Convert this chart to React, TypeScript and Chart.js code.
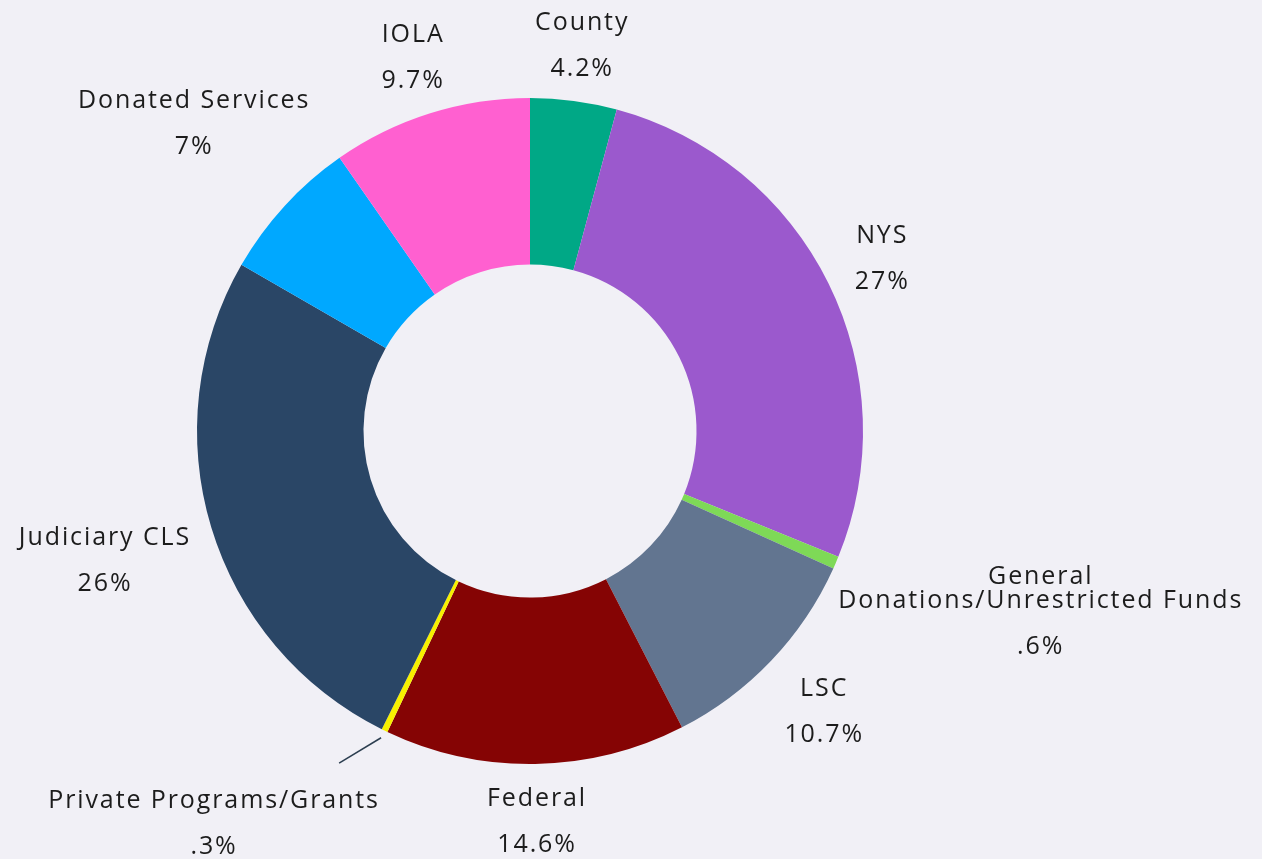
import React, { useEffect, useRef } from "react";
import { Chart, registerables } from "chart.js";

Chart.register(...registerables);

const categories = [
  "County",
  "NYS",
  "General\nDonations/Unrestricted Funds",
  "LSC",
  "Federal",
  "Private Programs/Grants",
  "Judiciary CLS",
  "Donated Services",
  "IOLA",
];
const values = [4.2, 27, 0.6, 10.7, 14.6, 0.3, 26, 7, 9.7];
const colors = [
  "#00a886",
  "#9b59cd",
  "#7ed957",
  "#627590",
  "#850404",
  "#f7f000",
  "#2a4666",
  "#00a8ff",
  "#ff60d0",
];

const FONT = '25px "Open Sans"';
const LETTER_SPACING = 1.9;
const TEXT_COLOR = "#1c1c1c";
const CAP_H = 17.5;
const LINE_GAP = 24;
const PCT_GAP = 46;

const fmtPct = (v: number) => String(v).replace(/^0(?=\.)/, "") + "%";

const outLabels = {
  id: "outLabels",
  afterDatasetsDraw(chart: any) {
    const ctx = chart.ctx as any;
    const meta = chart.getDatasetMeta(0);
    ctx.save();
    ctx.font = FONT;
    ctx.letterSpacing = LETTER_SPACING + "px";
    ctx.fillStyle = TEXT_COLOR;
    ctx.textAlign = "center";
    ctx.textBaseline = "alphabetic";
    const mw = (t: string) => ctx.measureText(t).width - LETTER_SPACING;
    const draw = (t: string, x: number, y: number) => ctx.fillText(t, x + LETTER_SPACING / 2, y);
    meta.data.forEach((arc: any, i: number) => {
      const p = arc.getProps(["x", "y", "startAngle", "endAngle", "outerRadius"], true);
      const cx = p.x, cy = p.y, R = p.outerRadius;
      const a = (p.startAngle + p.endAngle) / 2;
      const names = categories[i].split("\n");
      const pct = fmtPct(values[i]);
      const w = Math.max(...names.map((t) => mw(t)), mw(pct));
      const h = CAP_H + LINE_GAP * (names.length - 1) + PCT_GAP;
      let bx: number, by: number;
      if (values[i] < 0.5) {
        const a2 = a + (4 * Math.PI) / 180;
        const x0 = cx + (R + 8) * Math.cos(a), y0 = cy + (R + 8) * Math.sin(a);
        const x1 = cx + (R + 50) * Math.cos(a2), y1 = cy + (R + 50) * Math.sin(a2);
        ctx.save();
        ctx.strokeStyle = "#2c3e50";
        ctx.lineWidth = 1.5;
        ctx.beginPath();
        ctx.moveTo(x0, y0);
        ctx.lineTo(x1, y1);
        ctx.stroke();
        ctx.restore();
        bx = x1 - 126;
        by = y1 + 59;
      } else {
        let r = R + 56;
        for (; r < R + 500; r += 1) {
          const X = cx + r * Math.cos(a), Y = cy + r * Math.sin(a);
          const nx = Math.max(X - w / 2, Math.min(cx, X + w / 2));
          const ny = Math.max(Y - h / 2, Math.min(cy, Y + h / 2));
          if (Math.hypot(nx - cx, ny - cy) >= R + 21) break;
        }
        bx = cx + r * Math.cos(a);
        by = cy + r * Math.sin(a);
        if (names.length > 1) by -= 40;
      }
      const top = by - h / 2;
      names.forEach((t, j) => draw(t, bx, top + CAP_H + LINE_GAP * j));
      draw(pct, bx, top + h);
    });
    ctx.restore();
  },
};

export default function App() {
  const ref = useRef<HTMLCanvasElement>(null);
  useEffect(() => {
    const chart = new Chart(ref.current!, {
      type: "doughnut",
      data: {
        labels: categories,
        datasets: [
          {
            data: values,
            backgroundColor: colors,
            borderWidth: 0,
            hoverOffset: 0,
            offset: 0,
            spacing: 0,
          },
        ],
      },
      options: {
        animation: false,
        responsive: true,
        maintainAspectRatio: false,
        cutout: "50%",
        rotation: 0,
        layout: { padding: { left: 197, right: 399, top: 98, bottom: 95 } },
        plugins: { legend: { display: false }, tooltip: { enabled: false } },
        events: [],
      },
      plugins: [outLabels],
    });
    return () => chart.destroy();
  }, []);
  return (
    <div style={{ position: "absolute", left: 0, top: 0, width: 1262, height: 859, background: "#f1f0f6" }}>
      <canvas ref={ref} />
    </div>
  );
}
